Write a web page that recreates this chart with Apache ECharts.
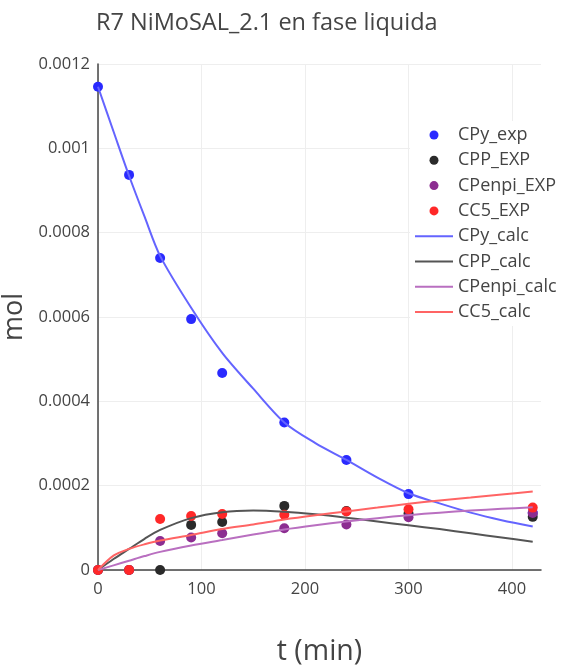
<!DOCTYPE html>
<html>
<head>
<meta charset="utf-8">
<script src="https://cdn.jsdelivr.net/npm/echarts@6/dist/echarts.min.js"></script>
<style>
html,body{margin:0;padding:0;background:#fff;}
#chart{width:563px;height:670px;}
</style>
</head>
<body>
<div id="chart"></div>
<script>
// Experimental times (min)
const tExp = [0, 30, 60, 90, 120, 180, 240, 300, 420];
const CPy_exp    = [0.001146, 0.000937, 0.000740, 0.000595, 0.000467, 0.000350, 0.000261, 0.000180, 0.000135];
const CPP_EXP    = [0, 0, 0, 0.000107, 0.000114, 0.000152, 0.000140, 0.000134, 0.000126];
const CPenpi_EXP = [0, 0, 0.0000688, 0.0000772, 0.000087, 0.000099, 0.000108, 0.000125, 0.000135];
const CC5_EXP    = [0, 0, 0.000121, 0.000128, 0.000133, 0.000131, 0.000139, 0.000144, 0.000148];

// Calculated curves
const tCalc = [0, 15, 30, 45, 60, 90, 120, 150, 180, 210, 240, 270, 300, 330, 360, 390, 420];
const CPy_calc    = [0.001146, 0.001040, 0.000935, 0.000838, 0.000745, 0.000622, 0.000515, 0.000430, 0.000350, 0.000301, 0.000261, 0.000219, 0.000182, 0.000158, 0.000136, 0.000118, 0.000103];
const CPP_calc    = [0, 0.000026, 0.000050, 0.000074, 0.000095, 0.000123, 0.000137, 0.000141, 0.000138, 0.000132, 0.000124, 0.000115, 0.000106, 0.000097, 0.000087, 0.000077, 0.000067];
const CPenpi_calc = [0, 0.000011, 0.000022, 0.000033, 0.000043, 0.000058, 0.000071, 0.000084, 0.000096, 0.000106, 0.000115, 0.000123, 0.000130, 0.000136, 0.000141, 0.000145, 0.000149];
const CC5_calc    = [0, 0.000034, 0.000050, 0.000061, 0.000070, 0.000083, 0.000097, 0.000108, 0.000120, 0.000130, 0.000139, 0.000148, 0.000157, 0.000165, 0.000172, 0.000179, 0.000186];

// Axis ticks
const xTicks = [0, 100, 200, 300, 400];
const yTicks = [0, 0.0002, 0.0004, 0.0006, 0.0008, 0.001, 0.0012];

function pairs(xs, ys) { return xs.map((x, i) => [x, ys[i]]); }

const FONT = '"Open Sans", "Noto Sans", sans-serif';
const LINE_ICON = 'path://M0,0H38V2H0Z';

function scatter(name, ys, color) {
  return {
    name, type: 'scatter', data: pairs(tExp, ys),
    symbol: 'circle', symbolSize: 10,
    itemStyle: { color, opacity: 1 },
    clip: true
  };
}
function line(name, ys, color) {
  return {
    name, type: 'line', data: pairs(tCalc, ys),
    symbol: 'none', showSymbol: false, smooth: 0.3,
    lineStyle: { color, width: 2 },
    itemStyle: { color },
    clip: true
  };
}

const chart = echarts.init(document.getElementById('chart'), null, { renderer: 'canvas' });
chart.setOption({
  animation: false,
  backgroundColor: '#fff',
  title: {
    text: 'R7 NiMoSAL_2.1 en fase liquida',
    left: 91, top: 6,
    textStyle: { fontFamily: FONT, fontSize: 23.5, fontWeight: 'normal', color: '#444' }
  },
  grid: { left: 98, right: 22, top: 64, bottom: 100, outerBoundsMode: 'none', containLabel: false },
  legend: {
    orient: 'vertical',
    left: 410, top: 121,
    padding: 5,
    backgroundColor: '#fff',
    itemWidth: 38, itemHeight: 9, itemGap: 7.3,
    textStyle: { fontFamily: FONT, fontSize: 18, color: '#444' },
    data: [
      { name: 'CPy_exp', icon: 'circle' },
      { name: 'CPP_EXP', icon: 'circle' },
      { name: 'CPenpi_EXP', icon: 'circle' },
      { name: 'CC5_EXP', icon: 'circle' },
      { name: 'CPy_calc', icon: LINE_ICON },
      { name: 'CPP_calc', icon: LINE_ICON },
      { name: 'CPenpi_calc', icon: LINE_ICON },
      { name: 'CC5_calc', icon: LINE_ICON }
    ]
  },
  xAxis: {
    type: 'value', min: 0, max: 428, interval: 100,
    name: 't (min)', nameLocation: 'middle', nameGap: 67,
    nameTextStyle: { fontFamily: FONT, fontSize: 28.5, color: '#444' },
    axisLine: { show: true, lineStyle: { color: '#444', width: 1.5 } },
    axisTick: { show: false },
    axisLabel: {
      fontFamily: FONT, fontSize: 16.5, color: '#444', margin: 11,
      showMaxLabel: false,
      formatter: v => xTicks.includes(v) ? String(v) : ''
    },
    splitLine: { show: true, showMaxLine: false, lineStyle: { color: '#eee', width: 1 } }
  },
  yAxis: {
    type: 'value', min: 0, max: 0.0012, interval: 0.0002,
    name: 'mol', nameLocation: 'middle', nameGap: 62, nameRotate: 90,
    nameTextStyle: { fontFamily: FONT, fontSize: 27, color: '#444' },
    axisLine: { show: true, lineStyle: { color: '#444', width: 1.5 } },
    axisTick: { show: false },
    axisLabel: {
      fontFamily: FONT, fontSize: 16.5, color: '#444', margin: 8,
      formatter: v => {
        const t = yTicks.find(k => Math.abs(k - v) < 1e-9);
        return t === undefined ? '' : String(t);
      }
    },
    splitLine: { show: true, lineStyle: { color: '#eee', width: 1 } }
  },
  series: [
    scatter('CPy_exp', CPy_exp, '#2a2aff'),
    scatter('CPP_EXP', CPP_EXP, '#2a2a2a'),
    scatter('CPenpi_EXP', CPenpi_EXP, '#8c2d91'),
    scatter('CC5_EXP', CC5_EXP, '#ff2828'),
    line('CPy_calc', CPy_calc, '#6464ff'),
    line('CPP_calc', CPP_calc, '#555555'),
    line('CPenpi_calc', CPenpi_calc, '#b96fc0'),
    line('CC5_calc', CC5_calc, '#ff6464')
  ]
});
</script>
</body>
</html>
